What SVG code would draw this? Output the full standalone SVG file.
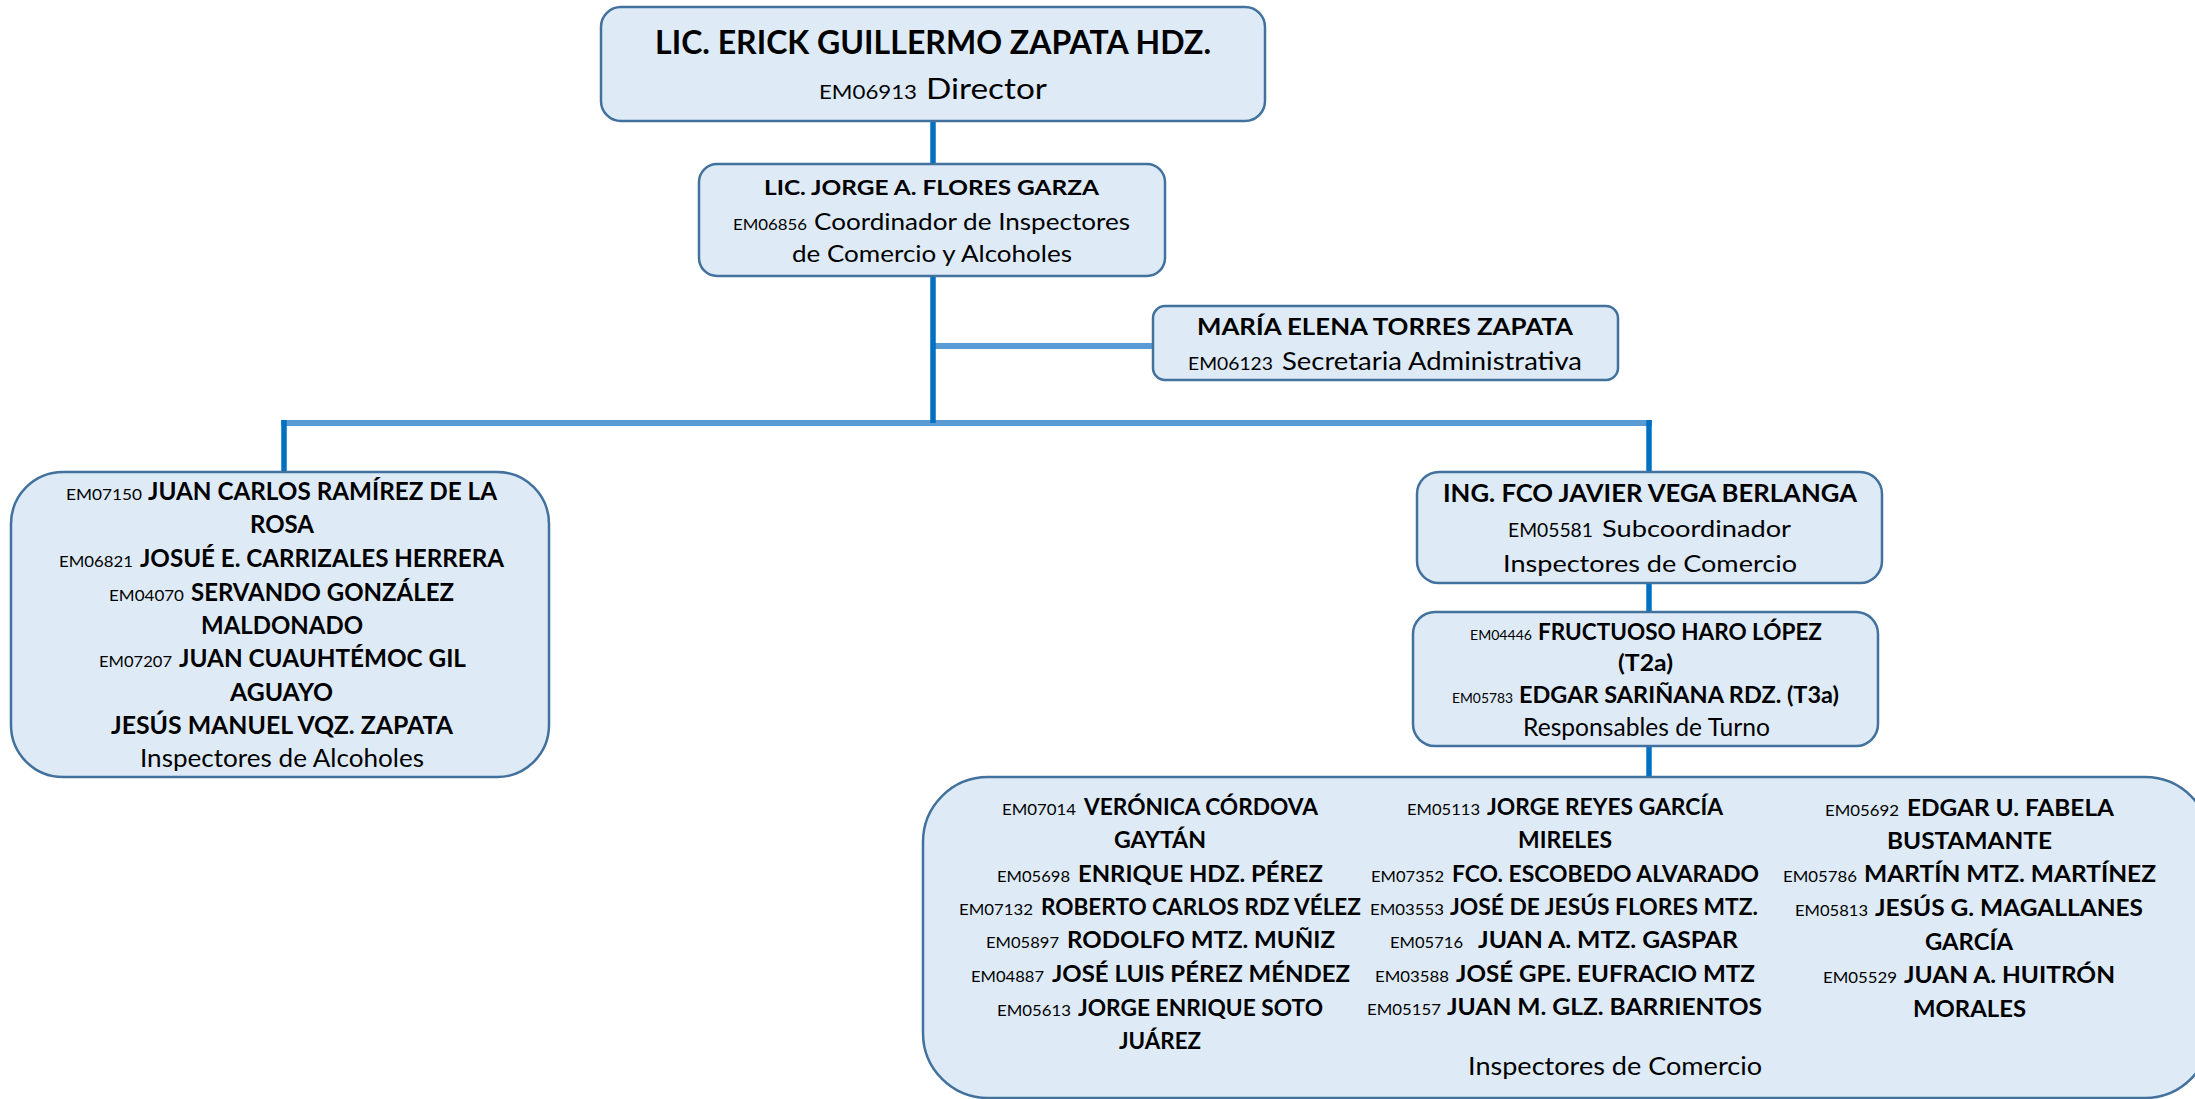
<svg xmlns="http://www.w3.org/2000/svg" width="2195" height="1099" viewBox="0 0 2195 1099">
<style>
.box{fill:#DEEBF7;stroke:#41719C;stroke-width:2.5}
text{font-family:Lato,"Open Sans","Liberation Sans",sans-serif;fill:#000}
.b{font-weight:700}
.dk{stroke:#0070C0;stroke-width:5.5;fill:none}
.lt{stroke:#5B9BD5;stroke-width:6;fill:none}
</style>
<rect width="2195" height="1099" fill="#fff"/>
<g id="connectors">
<line class="lt" x1="281" y1="423" x2="1652" y2="423"/>
<line class="lt" x1="933" y1="346" x2="1153" y2="346"/>
<line class="dk" x1="933" y1="122" x2="933" y2="164"/>
<line class="dk" x1="933" y1="276" x2="933" y2="423"/>
<line class="dk" x1="284" y1="420" x2="284" y2="472"/>
<line class="dk" x1="1649" y1="420" x2="1649" y2="472"/>
<line class="dk" x1="1649" y1="583" x2="1649" y2="612"/>
<line class="dk" x1="1649" y1="746" x2="1649" y2="777"/>
</g>
<g id="director">
<rect class="box" x="601" y="7" width="664" height="114" rx="20"/>
<text class="b" x="655" y="54" font-size="31.7" textLength="556" lengthAdjust="spacingAndGlyphs">LIC. ERICK GUILLERMO ZAPATA HDZ.</text>
<text x="819" y="99" font-size="20" textLength="98" lengthAdjust="spacingAndGlyphs">EM06913</text>
<text x="926" y="99" font-size="29" textLength="121" lengthAdjust="spacingAndGlyphs">Director</text>
</g>
<g id="coordinador">
<rect class="box" x="699" y="164" width="466" height="112" rx="18"/>
<text class="b" x="764" y="195" font-size="21" textLength="335" lengthAdjust="spacingAndGlyphs">LIC. JORGE A. FLORES GARZA</text>
<text x="733" y="230" font-size="16" textLength="74" lengthAdjust="spacingAndGlyphs">EM06856</text>
<text x="814" y="230" font-size="23" textLength="316" lengthAdjust="spacingAndGlyphs">Coordinador de Inspectores</text>
<text x="792" y="262" font-size="23" textLength="280" lengthAdjust="spacingAndGlyphs">de Comercio y Alcoholes</text>
</g>
<g id="secretaria">
<rect class="box" x="1153" y="306" width="465" height="74" rx="12"/>
<text class="b" x="1197" y="335" font-size="23" textLength="376" lengthAdjust="spacingAndGlyphs">MARÍA ELENA TORRES ZAPATA</text>
<text x="1188" y="370" font-size="18" textLength="85" lengthAdjust="spacingAndGlyphs">EM06123</text>
<text x="1282" y="370" font-size="25" textLength="300" lengthAdjust="spacingAndGlyphs">Secretaria Administrativa</text>
</g>
<g id="alcoholes">
<rect class="box" x="11" y="472" width="538" height="305" rx="52"/>
<text x="66" y="500" font-size="16" textLength="76" lengthAdjust="spacingAndGlyphs">EM07150</text>
<text class="b" x="148" y="500" font-size="25.5" textLength="349" lengthAdjust="spacingAndGlyphs">JUAN CARLOS RAMÍREZ DE LA</text>
<text class="b" x="250" y="533" font-size="25.5" textLength="64" lengthAdjust="spacingAndGlyphs">ROSA</text>
<text x="59" y="567" font-size="16" textLength="74" lengthAdjust="spacingAndGlyphs">EM06821</text>
<text class="b" x="140" y="567" font-size="25.5" textLength="364" lengthAdjust="spacingAndGlyphs">JOSUÉ E. CARRIZALES HERRERA</text>
<text x="109" y="601" font-size="16" textLength="75" lengthAdjust="spacingAndGlyphs">EM04070</text>
<text class="b" x="191" y="601" font-size="25.5" textLength="263" lengthAdjust="spacingAndGlyphs">SERVANDO GONZÁLEZ</text>
<text class="b" x="201" y="634" font-size="25.5" textLength="162" lengthAdjust="spacingAndGlyphs">MALDONADO</text>
<text x="99" y="667" font-size="16" textLength="73" lengthAdjust="spacingAndGlyphs">EM07207</text>
<text class="b" x="179" y="667" font-size="25.5" textLength="287" lengthAdjust="spacingAndGlyphs">JUAN CUAUHTÉMOC GIL</text>
<text class="b" x="230" y="701" font-size="25.5" textLength="103" lengthAdjust="spacingAndGlyphs">AGUAYO</text>
<text class="b" x="111" y="734" font-size="25.5" textLength="342" lengthAdjust="spacingAndGlyphs">JESÚS MANUEL VQZ. ZAPATA</text>
<text x="140" y="767" font-size="25.5" textLength="284" lengthAdjust="spacingAndGlyphs">Inspectores de Alcoholes</text>
</g>
<g id="subcoordinador">
<rect class="box" x="1417" y="472" width="465" height="111" rx="22"/>
<text class="b" x="1443" y="502" font-size="25.5" textLength="414" lengthAdjust="spacingAndGlyphs">ING. FCO JAVIER VEGA BERLANGA</text>
<text x="1508" y="537" font-size="19.5" textLength="85" lengthAdjust="spacingAndGlyphs">EM05581</text>
<text x="1602" y="537" font-size="24" textLength="189" lengthAdjust="spacingAndGlyphs">Subcoordinador</text>
<text x="1503" y="572" font-size="24" textLength="294" lengthAdjust="spacingAndGlyphs">Inspectores de Comercio</text>
</g>
<g id="responsables">
<rect class="box" x="1413" y="612" width="465" height="134" rx="22"/>
<text x="1470" y="640" font-size="14" textLength="62" lengthAdjust="spacingAndGlyphs">EM04446</text>
<text class="b" x="1538" y="640" font-size="23" textLength="284" lengthAdjust="spacingAndGlyphs">FRUCTUOSO HARO LÓPEZ</text>
<text class="b" x="1618" y="671" font-size="23" textLength="55" lengthAdjust="spacingAndGlyphs">(T2a)</text>
<text x="1452" y="703" font-size="14" textLength="61" lengthAdjust="spacingAndGlyphs">EM05783</text>
<text class="b" x="1519" y="703" font-size="23" textLength="320" lengthAdjust="spacingAndGlyphs">EDGAR SARIÑANA RDZ. (T3a)</text>
<text x="1523" y="736" font-size="24.5" textLength="247" lengthAdjust="spacingAndGlyphs">Responsables de Turno</text>
</g>
<g id="inspectores-comercio">
<rect class="box" x="923" y="777" width="1287" height="321" rx="65"/>
<text x="1002" y="815" font-size="15" textLength="74" lengthAdjust="spacingAndGlyphs">EM07014</text>
<text class="b" x="1084" y="815" font-size="22" textLength="234" lengthAdjust="spacingAndGlyphs">VERÓNICA CÓRDOVA</text>
<text class="b" x="1114" y="848" font-size="22" textLength="92" lengthAdjust="spacingAndGlyphs">GAYTÁN</text>
<text x="997" y="882" font-size="15" textLength="73" lengthAdjust="spacingAndGlyphs">EM05698</text>
<text class="b" x="1078" y="882" font-size="22" textLength="245" lengthAdjust="spacingAndGlyphs">ENRIQUE HDZ. PÉREZ</text>
<text x="959" y="915" font-size="15" textLength="74" lengthAdjust="spacingAndGlyphs">EM07132</text>
<text class="b" x="1041" y="915" font-size="22" textLength="320" lengthAdjust="spacingAndGlyphs">ROBERTO CARLOS RDZ VÉLEZ</text>
<text x="986" y="948" font-size="15" textLength="73" lengthAdjust="spacingAndGlyphs">EM05897</text>
<text class="b" x="1067" y="948" font-size="22" textLength="268" lengthAdjust="spacingAndGlyphs">RODOLFO MTZ. MUÑIZ</text>
<text x="971" y="982" font-size="15" textLength="73" lengthAdjust="spacingAndGlyphs">EM04887</text>
<text class="b" x="1052" y="982" font-size="22" textLength="298" lengthAdjust="spacingAndGlyphs">JOSÉ LUIS PÉREZ MÉNDEZ</text>
<text x="997" y="1016" font-size="15" textLength="74" lengthAdjust="spacingAndGlyphs">EM05613</text>
<text class="b" x="1078" y="1016" font-size="22" textLength="245" lengthAdjust="spacingAndGlyphs">JORGE ENRIQUE SOTO</text>
<text class="b" x="1119" y="1049" font-size="22" textLength="82" lengthAdjust="spacingAndGlyphs">JUÁREZ</text>
<text x="1407" y="815" font-size="15" textLength="73" lengthAdjust="spacingAndGlyphs">EM05113</text>
<text class="b" x="1487" y="815" font-size="22" textLength="236" lengthAdjust="spacingAndGlyphs">JORGE REYES GARCÍA</text>
<text class="b" x="1518" y="848" font-size="22" textLength="94" lengthAdjust="spacingAndGlyphs">MIRELES</text>
<text x="1371" y="882" font-size="15" textLength="73" lengthAdjust="spacingAndGlyphs">EM07352</text>
<text class="b" x="1452" y="882" font-size="22" textLength="307" lengthAdjust="spacingAndGlyphs">FCO. ESCOBEDO ALVARADO</text>
<text x="1370" y="915" font-size="15" textLength="74" lengthAdjust="spacingAndGlyphs">EM03553</text>
<text class="b" x="1450" y="915" font-size="22" textLength="308" lengthAdjust="spacingAndGlyphs">JOSÉ DE JESÚS FLORES MTZ.</text>
<text x="1390" y="948" font-size="15" textLength="73" lengthAdjust="spacingAndGlyphs">EM05716</text>
<text class="b" x="1478" y="948" font-size="22" textLength="260" lengthAdjust="spacingAndGlyphs">JUAN A. MTZ. GASPAR</text>
<text x="1375" y="982" font-size="15" textLength="74" lengthAdjust="spacingAndGlyphs">EM03588</text>
<text class="b" x="1456" y="982" font-size="22" textLength="299" lengthAdjust="spacingAndGlyphs">JOSÉ GPE. EUFRACIO MTZ</text>
<text x="1367" y="1015" font-size="15" textLength="74" lengthAdjust="spacingAndGlyphs">EM05157</text>
<text class="b" x="1447" y="1015" font-size="22" textLength="315" lengthAdjust="spacingAndGlyphs">JUAN M. GLZ. BARRIENTOS</text>
<text x="1468" y="1075" font-size="24.5" textLength="294" lengthAdjust="spacingAndGlyphs">Inspectores de Comercio</text>
<text x="1825" y="816" font-size="15" textLength="74" lengthAdjust="spacingAndGlyphs">EM05692</text>
<text class="b" x="1907" y="816" font-size="22" textLength="207" lengthAdjust="spacingAndGlyphs">EDGAR U. FABELA</text>
<text class="b" x="1887" y="849" font-size="22" textLength="165" lengthAdjust="spacingAndGlyphs">BUSTAMANTE</text>
<text x="1783" y="882" font-size="15" textLength="74" lengthAdjust="spacingAndGlyphs">EM05786</text>
<text class="b" x="1864" y="882" font-size="22" textLength="292" lengthAdjust="spacingAndGlyphs">MARTÍN MTZ. MARTÍNEZ</text>
<text x="1795" y="916" font-size="15" textLength="73" lengthAdjust="spacingAndGlyphs">EM05813</text>
<text class="b" x="1875" y="916" font-size="22" textLength="268" lengthAdjust="spacingAndGlyphs">JESÚS G. MAGALLANES</text>
<text class="b" x="1925" y="950" font-size="22" textLength="88" lengthAdjust="spacingAndGlyphs">GARCÍA</text>
<text x="1823" y="983" font-size="15" textLength="74" lengthAdjust="spacingAndGlyphs">EM05529</text>
<text class="b" x="1904" y="983" font-size="22" textLength="211" lengthAdjust="spacingAndGlyphs">JUAN A. HUITRÓN</text>
<text class="b" x="1913" y="1017" font-size="22" textLength="113" lengthAdjust="spacingAndGlyphs">MORALES</text>
</g>
</svg>
